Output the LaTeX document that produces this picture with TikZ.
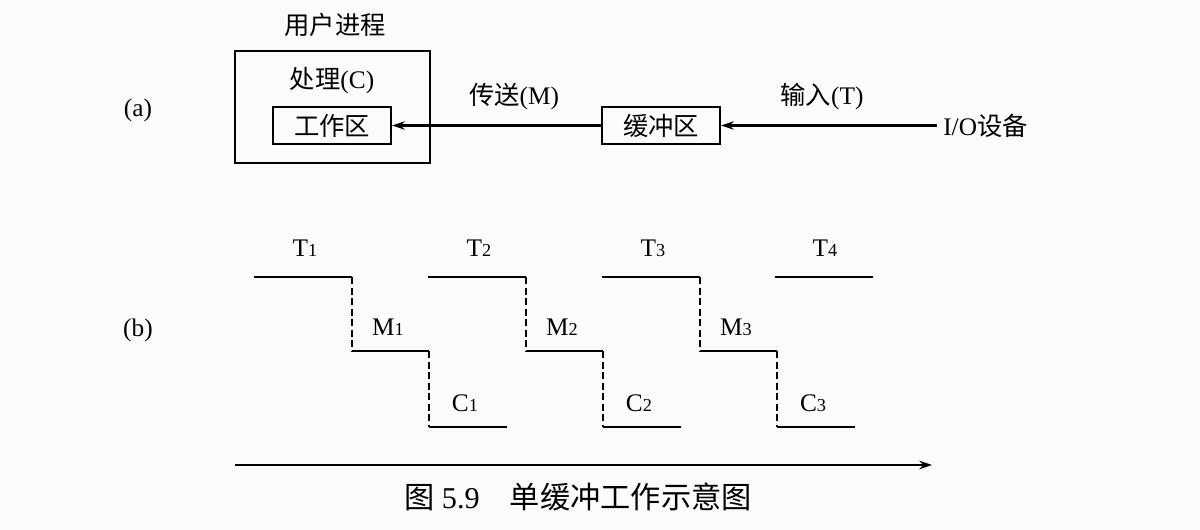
\documentclass[tikz,border=0pt]{standalone}
\usepackage{fontspec}
\setmainfont{Liberation Serif}
\newfontfamily\cjk{Noto Sans CJK SC}
\usetikzlibrary{arrows.meta,positioning}

\newcommand{\idx}[1]{{\fontsize{13}{13}\selectfont #1}}

\begin{document}
\begin{tikzpicture}[x=0.025cm, y=-0.025cm,
    lbl/.style={font=\fontsize{18}{20}\selectfont, inner sep=0pt},
    cjklbl/.style={font=\fontsize{18}{20}\selectfont\cjk, inner sep=0pt},
    box/.style={draw, line width=1.6pt, inner sep=0pt, font=\fontsize{18}{20}\selectfont\cjk},
    arrow/.style={-{Stealth[length=9pt,width=6pt]}, line width=1.5pt},
    tline/.style={line width=2pt},
    dline/.style={line width=1.8pt, dash pattern=on 5pt off 2.5pt}
  ]
    \useasboundingbox[fill=gray!3] (0,0) rectangle (1200,530);

    % (a) buffer path
    \node[lbl] (la) at (138,110) {(a)};
    \node[cjklbl] (title) at (335,25) {用户进程};
    \node[box, minimum width=4.875cm, minimum height=2.8cm] (user) at (332.5,107) {};
    \node[lbl] (calc) at (332,81) {{\cjk 处理}(C)};
    \node[box, minimum width=2.95cm, minimum height=0.925cm] (work) at (332,125.5) {工作区};
    \node[box, minimum width=2.95cm, minimum height=0.925cm] (buf) at (661,125.5) {缓冲区};
    \node[lbl, anchor=west] (dev) at (943,125.5) {I/O{\cjk 设备}};
    \node[lbl] (move) at (514,97) {{\cjk 传送}(M)};
    \node[lbl] (input) at (822,97) {{\cjk 输入}(T)};

    \draw[arrow] (buf.west) -- (work.east);
    \draw[arrow, shorten <=4pt] (dev.west) -- (buf.east);

    % (b) timing
    \node[lbl] (lb) at (138,330) {(b)};
    \foreach \i in {1,2,3} {
      \pgfmathsetmacro{\xo}{254+174*(\i-1)}
      \coordinate (t\i a) at (\xo,277);
      \coordinate (t\i b) at (\xo+98,277);
      \coordinate (m\i a) at (\xo+98,351);
      \coordinate (m\i b) at (\xo+175,351);
      \coordinate (c\i a) at (\xo+175,427);
      \coordinate (c\i b) at (\xo+253,427);
      \draw[tline] (t\i a) -- (t\i b);
      \draw[dline] (t\i b) -- (m\i a);
      \draw[tline] (m\i a) -- (m\i b);
      \draw[dline] (m\i b) -- (c\i a);
      \draw[tline] (c\i a) -- (c\i b);
      \node[lbl] (tl\i) at (\xo+51,248) {T\idx{\i}};
      \node[lbl] (ml\i) at (\xo+134,327) {M\idx{\i}};
      \node[lbl] (cl\i) at (\xo+211,403) {C\idx{\i}};
    }
    \coordinate (t4a) at (775,277);
    \coordinate (t4b) at (873,277);
    \draw[tline] (t4a) -- (t4b);
    \node[lbl] (tl4) at (825,248) {T\idx{4}};

    % time axis
    \coordinate (ax0) at (235,465);
    \coordinate (ax1) at (932,465);
    \draw[arrow] (ax0) -- (ax1);
    \node[lbl, font=\fontsize{21.5}{24}\selectfont] (cap) at (578,497) {{\cjk 图} 5.9\quad{\cjk 单缓冲工作示意图}};
  \end{tikzpicture}
\end{document}
